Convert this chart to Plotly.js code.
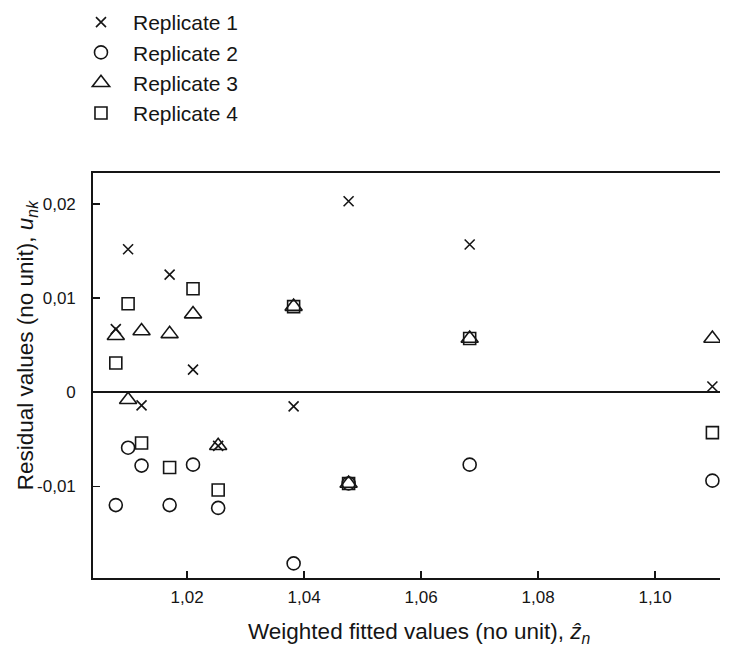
<!DOCTYPE html>
<html><head><meta charset="utf-8">
<script src="https://cdn.plot.ly/plotly-3.0.1.min.js"></script>
<style>html,body{margin:0;padding:0;background:#fff}#chart{width:730px;height:650px}</style>
</head><body><div id="chart"></div>
<script>
// fitted values (x) shared by all replicates
const fitted = [1.0078, 1.0099, 1.0122, 1.0170, 1.0210, 1.0253, 1.0382, 1.0476, 1.0683, 1.1098];
const rep1 = [0.0067, 0.0152, -0.0014, 0.0125, 0.0024, -0.0057, -0.0015, 0.0203, 0.0157, 0.0006];
const rep2 = [-0.0120, -0.0059, -0.0078, -0.0120, -0.0077, -0.0123, -0.0182, -0.0097, -0.0077, -0.0094];
const rep3 = [0.0060, -0.0008, 0.0065, 0.0062, 0.0083, -0.0057, 0.0091, -0.0097, 0.0057, 0.0057];
const rep4 = [0.0031, 0.0094, -0.0054, -0.0080, 0.0110, -0.0104, 0.0091, -0.0097, 0.0057, -0.0043];
const seriesNames = ["Replicate 1", "Replicate 2", "Replicate 3", "Replicate 4"];
const xTickVals = [1.02, 1.04, 1.06, 1.08, 1.10];
const xTickText = ["1,02", "1,04", "1,06", "1,08", "1,10"];
const yTickVals = [0.02, 0.01, 0, -0.01];
const yTickText = ["0,02", "0,01", "0", "-0,01"];

const ink = "#151515";
const FONT = "Liberation Sans, Arial, sans-serif";
const symbols = ["x-thin-open", "circle-open", "triangle-up-open", "square-open"];
const sizes = [10, 13, 15, 12];
const data = [rep1, rep2, rep3, rep4].map((ys, i) => ({
  type: "scatter", mode: "markers", x: fitted, y: ys, name: seriesNames[i],
  marker: {symbol: symbols[i], size: sizes[i], color: ink, line: {color: ink, width: 1.6}},
  hoverinfo: "x+y"
}));

const layout = {
  width: 730, height: 650,
  margin: {l: 93, r: 10, t: 173, b: 72, autoexpand: false},
  paper_bgcolor: "#fff", plot_bgcolor: "#fff",
  font: {family: FONT, color: ink, size: 15},
  showlegend: true,
  legend: {xref: "container", yref: "container", x: 0.0945, y: 0.997,
           xanchor: "left", yanchor: "top", itemwidth: 54,
           font: {family: FONT, size: 21, color: ink}, bgcolor: "rgba(0,0,0,0)"},
  xaxis: {range: [1.0039, 1.1111], showgrid: false, zeroline: false,
          showline: true, linecolor: ink, linewidth: 1.8, mirror: true,
          ticks: "inside", ticklen: 7, tickwidth: 1.5, tickcolor: ink,
          tickvals: xTickVals, ticktext: xTickText, ticklabelstandoff: 3,
          tickfont: {size: 17}},
  yaxis: {range: [-0.01975, 0.0233], showgrid: false,
          zeroline: true, zerolinecolor: ink, zerolinewidth: 2.2,
          showline: true, linecolor: ink, linewidth: 1.8,
          ticks: "inside", ticklen: 7, tickwidth: 1.5, tickcolor: ink,
          tickvals: yTickVals, ticktext: yTickText, ticklabelstandoff: 12,
          tickfont: {size: 17}},
  annotations: [
    {xref: "paper", yref: "paper", x: 0.5215, y: -0.136, xanchor: "center", yanchor: "middle",
     showarrow: false, text: "Weighted fitted values (no unit), <i>ẑ</i><sub><i>n</i></sub>",
     font: {size: 22.5, family: FONT, color: ink}},
    {xref: "paper", yref: "paper", x: -0.105, y: 0.575, xanchor: "center", yanchor: "middle",
     showarrow: false, textangle: -90, text: "Residual values (no unit), <i>u</i><sub><i>nk</i></sub>",
     font: {size: 22.5, family: FONT, color: ink}}
  ]
};
Plotly.newPlot("chart", data, layout, {displayModeBar: false, staticPlot: true});
</script></body></html>
